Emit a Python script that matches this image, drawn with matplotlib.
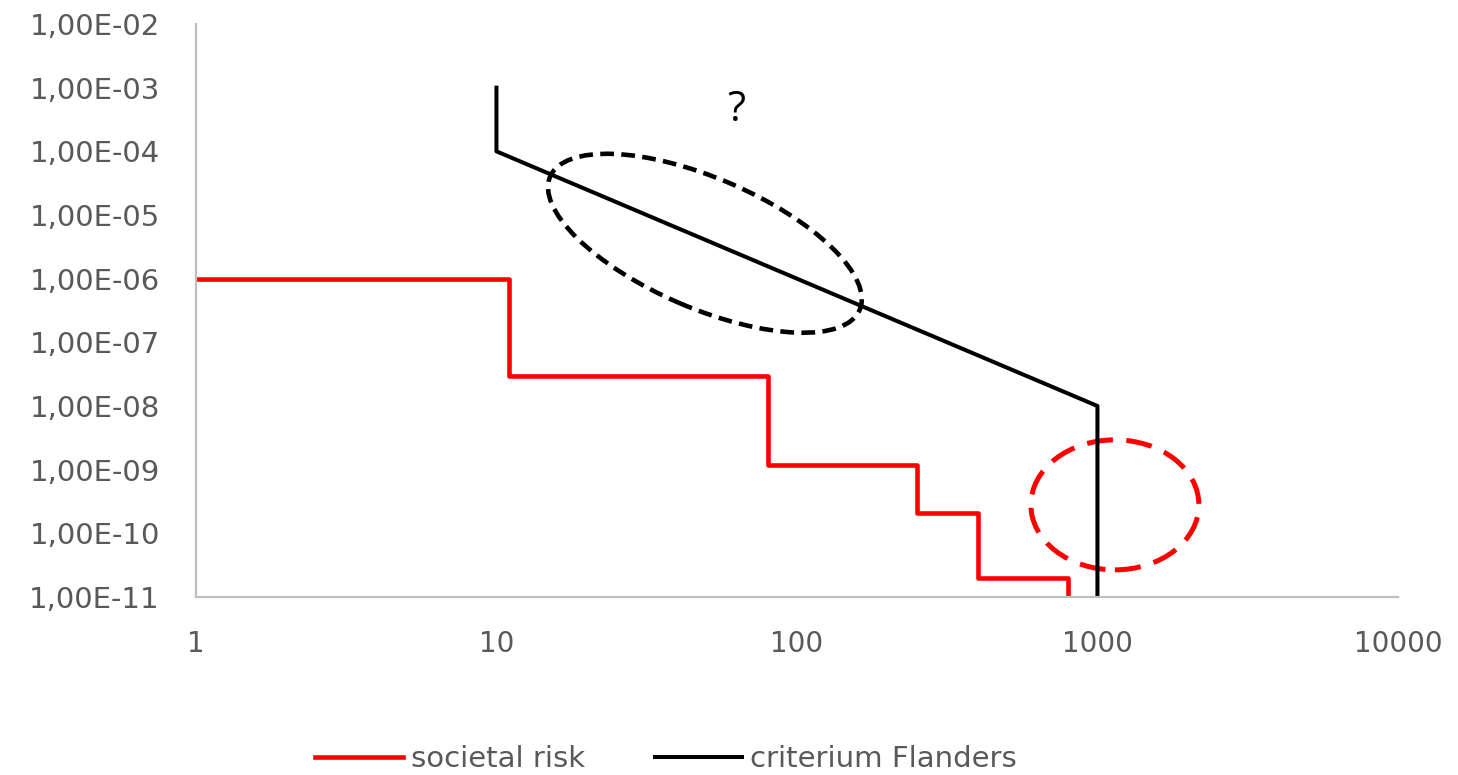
import matplotlib
matplotlib.use('Agg')
import matplotlib.pyplot as plt
from matplotlib.patches import Ellipse
from matplotlib.transforms import ScaledTranslation

plt.rcParams['font.family'] = ['DejaVu Sans']

# societal risk (F-N step curve)
risk_n = [1, 11, 11, 80, 80, 250, 250, 400, 400, 800, 800]
risk_f = [1e-6, 1e-6, 3e-8, 3e-8, 1.2e-9, 1.2e-9, 2.1e-10, 2.1e-10, 2e-11, 2e-11, 1e-12]

# criterium Flanders
crit_n = [10, 10, 20, 50, 100, 200, 500, 1000, 1000]
crit_f = [1e-3, 1e-4, 2.5e-5, 4e-6, 1e-6, 2.5e-7, 4e-8, 1e-8, 1e-12]

x_ticks = [1, 10, 100, 1000, 10000]
x_labels = ['1', '10', '100', '1000', '10000']
y_ticks = [1e-2, 1e-3, 1e-4, 1e-5, 1e-6, 1e-7, 1e-8, 1e-9, 1e-10, 1e-11]
y_labels = ['1,00E-%02d' % k for k in range(2, 12)]

fig = plt.figure(figsize=(14.58, 7.75), dpi=100)
ax = fig.add_axes([0.1344, 0.2297, 0.8244, 0.7393])

ax.plot(risk_n, risk_f, color='#FF0000', lw=3.3, label='societal risk')
ax.plot(crit_n, crit_f, color='black', lw=2.9, label='criterium Flanders')

ax.set_xscale('log')
ax.set_yscale('log')
ax.set_xlim(1, 10000)
ax.set_ylim(1e-11, 1e-2)
ax.set_xticks(x_ticks)
ax.set_xticklabels(x_labels)
ax.set_yticks(y_ticks)
ax.set_yticklabels(y_labels)
ax.minorticks_off()
ax.tick_params(length=0, labelcolor='#595959')
ax.tick_params(axis='x', pad=24, labelsize=20)
ax.tick_params(axis='y', pad=26, labelsize=21)

for s in ['top', 'right']:
    ax.spines[s].set_visible(False)
for s in ['left', 'bottom']:
    ax.spines[s].set_color('#BFBFBF')
    ax.spines[s].set_linewidth(1.6)

# dashed ellipses (sized in inches, centred in data coords)
e1 = Ellipse((0, 0), 3.37, 1.30, angle=-23.3, fill=False, edgecolor='black',
             lw=3.3, linestyle=(0, (3.0, 1.6)),
             transform=fig.dpi_scale_trans + ScaledTranslation(49.4, 3.6e-6, ax.transData))
ax.add_patch(e1)
e2 = Ellipse((0, 0), 1.68, 1.30, angle=0, fill=False, edgecolor='#FF0000',
             lw=3.6, linestyle=(0, (5.2, 2.7)),
             transform=fig.dpi_scale_trans + ScaledTranslation(1143, 2.8e-10, ax.transData))
ax.add_patch(e2)

ax.text(63, 4.4e-4, '?', fontsize=30, ha='center', va='center', color='black',
        family='Open Sans')

leg = fig.legend(loc='center', bbox_to_anchor=(666 / 1458, 16 / 775), ncol=2, frameon=False,
                 fontsize=21, handlelength=3.0, columnspacing=2.4, handletextpad=0.27)
for t in leg.get_texts():
    t.set_color('#595959')

fig.savefig('out.png', dpi=100)
